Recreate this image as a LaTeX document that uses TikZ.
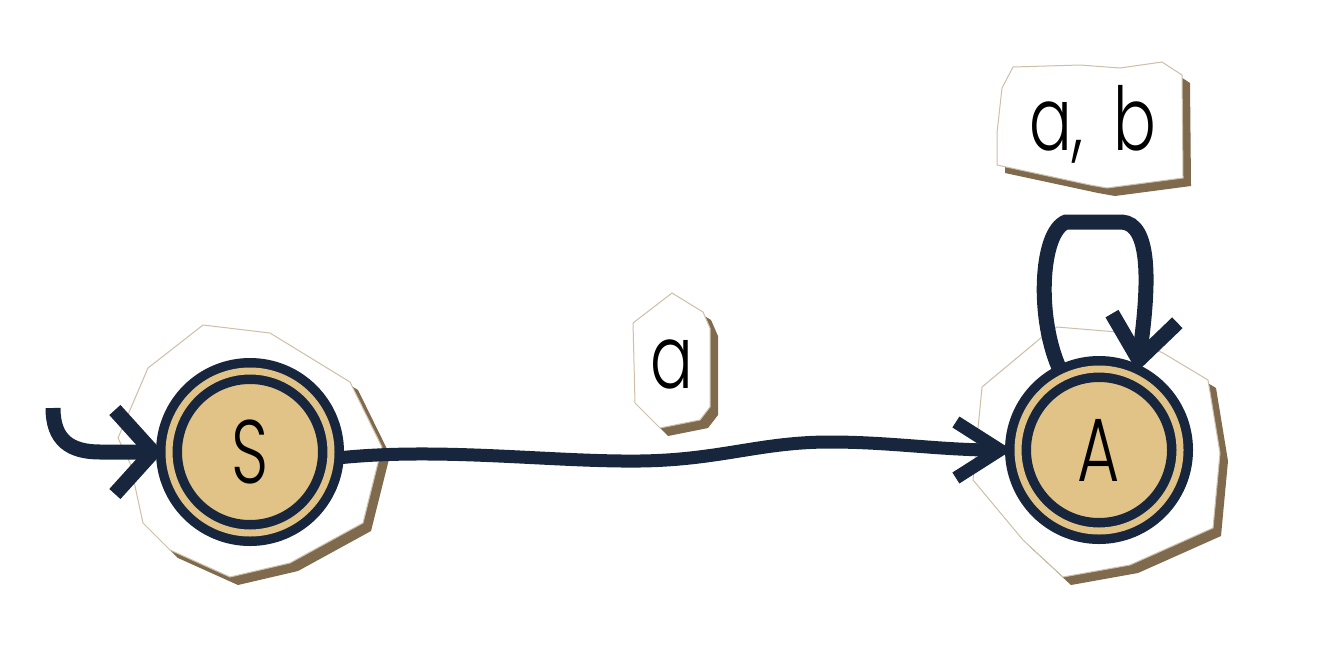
\documentclass[tikz,border=0pt]{standalone}
\usepackage{fontspec}
\usepackage{tikz}
\usetikzlibrary{
  positioning,
  arrows.meta
}
\newfontfamily\handfont{Poppins Light}[FakeStretch=0.72]
\definecolor{navy}{HTML}{17263D}
\definecolor{statefill}{HTML}{E2C387}
\definecolor{shadowbrown}{HTML}{7F6A4D}
\definecolor{paperedge}{HTML}{CDBFA8}
\tikzset{
  state/.style={circle,draw=navy,fill=statefill,line width=9.5pt,double=statefill,double distance=7pt,
    minimum size=162pt,inner sep=0pt,outer sep=6pt,font=\handfont\fontsize{90}{90}\selectfont},
  lbl/.style={inner sep=0pt,font=\handfont\fontsize{88}{88}\selectfont},
  edge/.style={draw=navy,line width=15pt}
}
\newcommand{\paperblob}[1]{%
  \fill[shadowbrown,shift={(8,8)}] #1;
  \filldraw[fill=white,draw=paperedge,line width=1pt] #1;}

\begin{document}
\begin{tikzpicture}[x=1pt,y=-1pt]
		\useasboundingbox (0,0) rectangle (1324,656);
		\paperblob{(203,325) -- (270,333) -- (350,382) -- (382,447) -- (363,523) -- (290,563) -- (230,577) -- (170,550) -- (143,523) -- (130,463) -- (118,438) -- (148,368) -- cycle}
		\paperblob{(1042,337) -- (1057,327) -- (1117,332) -- (1163,353) -- (1208,380) -- (1220,453) -- (1213,528) -- (1130,565) -- (1063,577) -- (1023,540) -- (973,480) -- (982,387) -- cycle}
		\paperblob{(672,293) -- (703,312) -- (710,328) -- (710,407) -- (700,420) -- (660,428) -- (635,403) -- (633,323) -- cycle}
		\paperblob{(1013,67) -- (1080,65) -- (1120,68) -- (1162,62) -- (1182,75) -- (1183,178) -- (1107,188) -- (1090,185) -- (997,165) -- (997,133) -- (1002,88) -- cycle}
		\node [state] (S) at (250,452) {S};
		\node [state] (A) at (1099,450) {A};
		\coordinate (init) at (53,408);
		\draw [edge,-{Straight Barb[length=38pt,width=84pt,sharp]}] (init) .. controls (53,440) and (70,452) .. (100,452) -- (S);
		\draw [edge,line width=13pt,-{Straight Barb[length=44pt,width=56pt,sharp]}] (S.-4) .. controls (440,447) and (550,462) .. (640,461) .. controls (720,460) and (760,442) .. (830,442) .. controls (890,442) and (940,450) .. (A.west);
		\draw [edge,-{Straight Barb[length=42pt,width=66pt,sharp]}] (A.116) .. controls (1036,320) and (1040,232) .. (1066,222) -- (1122,222) .. controls (1150,224) and (1150,280) .. (A.64);
		\node [lbl,anchor=base] (la) at (672,388) {a};
		\node [lbl,anchor=base] (lab) at (1093,150) {a,\hspace{30pt}b};
	\end{tikzpicture}
\end{document}
